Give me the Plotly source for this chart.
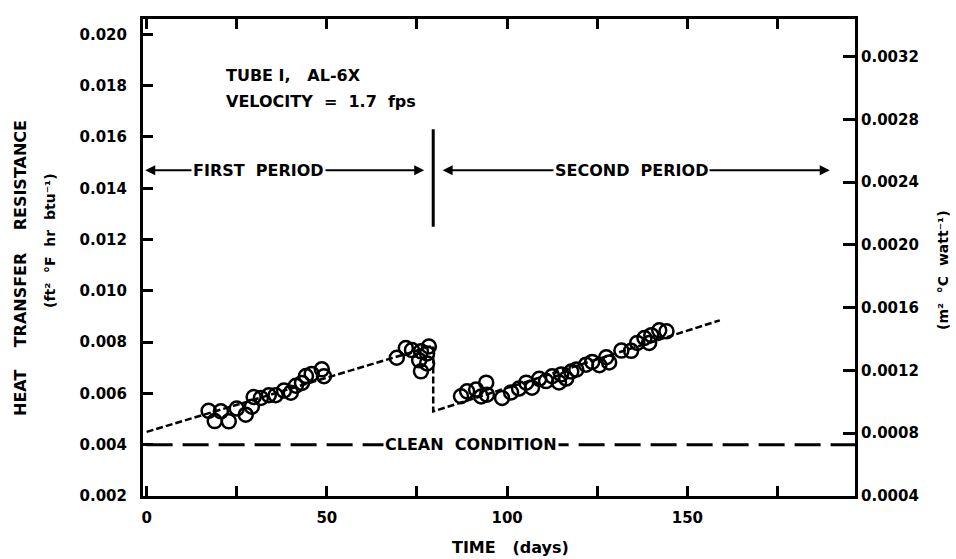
import plotly.graph_objects as go

# ---- data ----
first_days = [17.2, 18.9, 20.6, 22.8, 25.0, 27.5, 29.2, 29.7, 31.7, 33.9, 35.8, 38.1, 40.0, 41.4,
              43.1, 44.2, 45.8, 48.6, 49.2, 69.4, 71.9, 73.6, 75.6, 76.1, 76.1, 77.8, 77.8, 78.3]
first_r = [0.00532, 0.00492, 0.00530, 0.00491, 0.00541, 0.00517, 0.00548, 0.00586, 0.00582, 0.00593,
           0.00593, 0.00611, 0.00603, 0.00630, 0.00641, 0.00668, 0.00676, 0.00694, 0.00667, 0.00739,
           0.00777, 0.00769, 0.00729, 0.00764, 0.00686, 0.00756, 0.00717, 0.00783]

second_days = [87.2, 88.9, 91.4, 92.8, 94.2, 94.4, 98.6, 101.1, 103.3, 105.3, 106.9, 108.9, 110.8,
               112.5, 114.4, 115.0, 116.4, 117.8, 119.2, 121.9, 123.6, 125.6, 127.5, 128.3, 131.7,
               134.4, 136.1, 138.1, 139.4, 140.0, 142.2, 144.2]
second_r = [0.00589, 0.00608, 0.00615, 0.00588, 0.00642, 0.00595, 0.00582, 0.00604, 0.00619, 0.00642,
            0.00622, 0.00657, 0.00648, 0.00667, 0.00643, 0.00674, 0.00658, 0.00685, 0.00693, 0.00712,
            0.00723, 0.00710, 0.00741, 0.00721, 0.00767, 0.00766, 0.00797, 0.00816, 0.00797, 0.00827,
            0.00846, 0.00842]

fit_days = [0, 79.5, 79.5, 159]
fit_r = [0.0045, 0.00786, 0.0053, 0.00885]

clean_days = [0, 196.5]
clean_r = [0.0040, 0.0040]

x_tickvals = [0, 25, 50, 75, 100, 125, 150, 175]
x_ticktext = ["0", "", "50", "", "100", "", "150", ""]
y_tickvals = [0.002, 0.004, 0.006, 0.008, 0.010, 0.012, 0.014, 0.016, 0.018, 0.020]
y2_tickvals = [0.0004, 0.0008, 0.0012, 0.0016, 0.0020, 0.0024, 0.0028, 0.0032]

period_split = 79.5
arrow_level = 0.0147

FONT = "DejaVu Sans"
black = "#000000"
NB = "\u00a0"

# plot-area geometry (pixels)
M_L, M_R, M_T, M_B = 143, 101, 19, 63
W, H = 956, 559
PW = W - M_L - M_R
PH = H - M_T - M_B


def px_to_paper(px, py):
    return (px - M_L) / PW, (H - M_B - py) / PH


fig = go.Figure()

fig.add_trace(go.Scatter(x=clean_days, y=clean_r, mode="lines",
                         line=dict(color=black, width=3, dash="26px,10px"),
                         showlegend=False, hoverinfo="skip"))
fig.add_trace(go.Scatter(x=fit_days, y=fit_r, mode="lines",
                         line=dict(color=black, width=2.5, dash="7px,3px"),
                         showlegend=False, hoverinfo="skip"))
fig.add_trace(go.Scatter(x=first_days, y=first_r, mode="markers",
                         marker=dict(symbol="circle-open", size=14, color=black,
                                     line=dict(width=2.5, color=black)),
                         showlegend=False))
fig.add_trace(go.Scatter(x=second_days, y=second_r, mode="markers",
                         marker=dict(symbol="circle-open", size=14, color=black,
                                     line=dict(width=2.5, color=black)),
                         showlegend=False))
# invisible trace to anchor the SI axis
fig.add_trace(go.Scatter(x=[0], y=[0.001], yaxis="y2", mode="markers",
                         marker=dict(opacity=0), showlegend=False, hoverinfo="skip"))

# separator between periods
fig.add_shape(type="line", x0=period_split, x1=period_split, y0=0.0125, y1=0.0163,
              xref="x", yref="y", line=dict(color=black, width=3))

annots = []
annots.append(dict(x=77, y=arrow_level, ax=-0.8, ay=arrow_level, xref="x", yref="y",
                   axref="x", ayref="y", text="", showarrow=True, arrowhead=2,
                   arrowside="end+start", arrowwidth=2, arrowsize=1, arrowcolor=black))
annots.append(dict(x=189.5, y=arrow_level, ax=81.7, ay=arrow_level, xref="x", yref="y",
                   axref="x", ayref="y", text="", showarrow=True, arrowhead=2,
                   arrowside="end+start", arrowwidth=2, arrowsize=1, arrowcolor=black))
lab_font = dict(family=FONT, size=16, color=black, weight="bold")
annots.append(dict(x=31, y=arrow_level, xref="x", yref="y", text=f"FIRST{NB*2}PERIOD",
                   showarrow=False, bgcolor="white", font=lab_font))
annots.append(dict(x=134.5, y=arrow_level, xref="x", yref="y", text=f"SECOND{NB*2}PERIOD",
                   showarrow=False, bgcolor="white", font=lab_font))
annots.append(dict(x=90, y=0.0040, xref="x", yref="y", text=f"CLEAN{NB*2}CONDITION",
                   showarrow=False, bgcolor="white", font=lab_font))
annots.append(dict(x=21.5, y=0.0184, xref="x", yref="y", text=f"TUBE{NB}I,{NB*3}AL-6X",
                   xanchor="left", showarrow=False, font=lab_font))
annots.append(dict(x=21.5, y=0.01737, xref="x", yref="y",
                   text=f"VELOCITY{NB*2}={NB*2}1.7{NB*2}fps",
                   xanchor="left", showarrow=False, font=lab_font))

px, py = px_to_paper(20, 268)
annots.append(dict(x=px, y=py, xref="paper", yref="paper", xanchor="center", yanchor="middle",
                   text=f"HEAT{NB*4}TRANSFER{NB*4}RESISTANCE", textangle=-90,
                   showarrow=False, font=dict(family=FONT, size=16, color=black, weight="bold")))
px, py = px_to_paper(50, 240)
annots.append(dict(x=px, y=py, xref="paper", yref="paper", xanchor="center", yanchor="middle",
                   text=f"(ft²{NB*2}°F{NB*2}hr{NB*2}btu⁻¹)", textangle=-90,
                   showarrow=False, font=dict(family=FONT, size=14, color=black, weight="bold")))
px, py = px_to_paper(943, 270)
annots.append(dict(x=px, y=py, xref="paper", yref="paper", xanchor="center", yanchor="middle",
                   text=f"(m²{NB*2}°C{NB*2}watt⁻¹)", textangle=-90,
                   showarrow=False, font=dict(family=FONT, size=14, color=black, weight="bold")))
px, py = px_to_paper(510, 547)
annots.append(dict(x=px, y=py, xref="paper", yref="paper", xanchor="center", yanchor="middle",
                   text=f"TIME{NB*3}(days)",
                   showarrow=False, font=dict(family=FONT, size=16, color=black, weight="bold")))

tick_font = dict(family=FONT, size=15, color=black, weight="bold")
fig.update_layout(
    width=W, height=H,
    margin=dict(l=M_L, r=M_R, t=M_T, b=M_B),
    paper_bgcolor="white", plot_bgcolor="white",
    font=dict(family=FONT, color=black),
    annotations=annots,
    xaxis=dict(range=[-1, 196.5], tickvals=x_tickvals, ticktext=x_ticktext,
               ticks="inside", ticklen=10, tickwidth=2.5, tickcolor=black,
               showline=True, linecolor=black, linewidth=3, mirror="ticks",
               showgrid=False, zeroline=False, tickfont=tick_font, ticklabelstandoff=6),
    yaxis=dict(range=[0.002, 0.0206], tickvals=y_tickvals, tickformat=".3f",
               ticks="inside", ticklen=10, tickwidth=2.5, tickcolor=black,
               showline=True, linecolor=black, linewidth=3, mirror=True,
               showgrid=False, zeroline=False, tickfont=tick_font, ticklabelstandoff=10),
    yaxis2=dict(range=[0.0004, 0.00344], tickvals=y2_tickvals, tickformat=".4f",
                overlaying="y", side="right",
                ticks="inside", ticklen=12, tickwidth=2.5, tickcolor=black,
                showline=True, linecolor=black, linewidth=3,
                showgrid=False, zeroline=False, tickfont=tick_font),
)

fig.write_html("out.html")
